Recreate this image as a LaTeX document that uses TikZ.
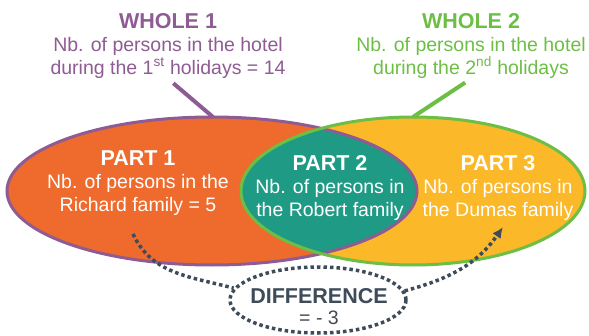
\documentclass[tikz,border=0pt]{standalone}
\usepackage{fontspec}
\setmainfont{Liberation Sans}
\usetikzlibrary{arrows.meta,shapes.geometric}
\definecolor{wholeA}{HTML}{8E5B93}
\definecolor{wholeB}{HTML}{6DBE45}
\definecolor{partA}{HTML}{EE6B2D}
\definecolor{partB}{HTML}{1F9A84}
\definecolor{partC}{HTML}{FBB829}
\definecolor{slate}{HTML}{3E4C59}
\newcommand{\heading}[1]{{\bfseries\fontsize{21.5}{23}\selectfont #1}}
\tikzset{
  txt/.style={align=center, font=\fontsize{19.5}{23}\selectfont, inner sep=0pt},
  dotline/.style={slate, line width=3.5pt, dash pattern=on 3.5pt off 3pt},
}

\begin{document}
\begin{tikzpicture}[x=1pt,y=1pt]
  \useasboundingbox (0,0) rectangle (589,335);
  \coordinate (A) at (212,144);
  \coordinate (B) at (413,144);
  % the two sets
  \fill[partA] (A) ellipse [x radius=205, y radius=74];
  \fill[partC] (B) ellipse [x radius=172, y radius=74];
  \begin{scope}
    \clip (A) ellipse [x radius=205, y radius=74];
    \fill[partB] (B) ellipse [x radius=172, y radius=74];
  \end{scope}
  \draw[wholeA, line width=3pt] (A) ellipse [x radius=205, y radius=74];
  \draw[wholeB, line width=3pt] (B) ellipse [x radius=172, y radius=74];
  \coordinate (topA) at (213,218);
  \coordinate (topB) at (413,218);

  % wholes
  \node[txt, wholeA] (whole1) at (168,289)
    {\heading{WHOLE 1}\\Nb. of persons in the hotel\\during the 1\textsuperscript{st} holidays = 14};
  \node[txt, wholeB] (whole2) at (471,289)
    {\heading{WHOLE 2}\\Nb. of persons in the hotel\\during the 2\textsuperscript{nd} holidays};
  \draw[wholeA, line width=4pt, shorten <=7pt] (whole1.south) -- (topA);
  \draw[wholeB, line width=4pt, shorten <=7pt] (whole2.south) -- (topB);

  % parts
  \node[txt, white] (part1) at (138,152)
    {\heading{PART 1}\\Nb. of persons in the\\Richard family = 5};
  \node[txt, white] (part2) at (330,147)
    {\heading{PART 2}\\Nb. of persons in\\the Robert family};
  \node[txt, white] (part3) at (498,147)
    {\heading{PART 3}\\Nb. of persons in\\the Dumas family};

  % difference
  \node[ellipse, dotline, draw, minimum width=176, minimum height=66] (diff) at (318,35) {};
  \node[txt, slate, font=\fontsize{19.5}{21}\selectfont] (difftxt) at (319,28)
    {\heading{DIFFERENCE}\\= - 3};
  \coordinate (fromA) at (133,101);
  \coordinate (toC) at (503,108);
  \draw[dotline] (fromA) to[out=-65, in=165] (diff.172);
  \draw[dotline, -{Latex[length=11pt, width=10pt]}] (diff.6) to[out=15, in=-125] (toC);
\end{tikzpicture}
\end{document}
